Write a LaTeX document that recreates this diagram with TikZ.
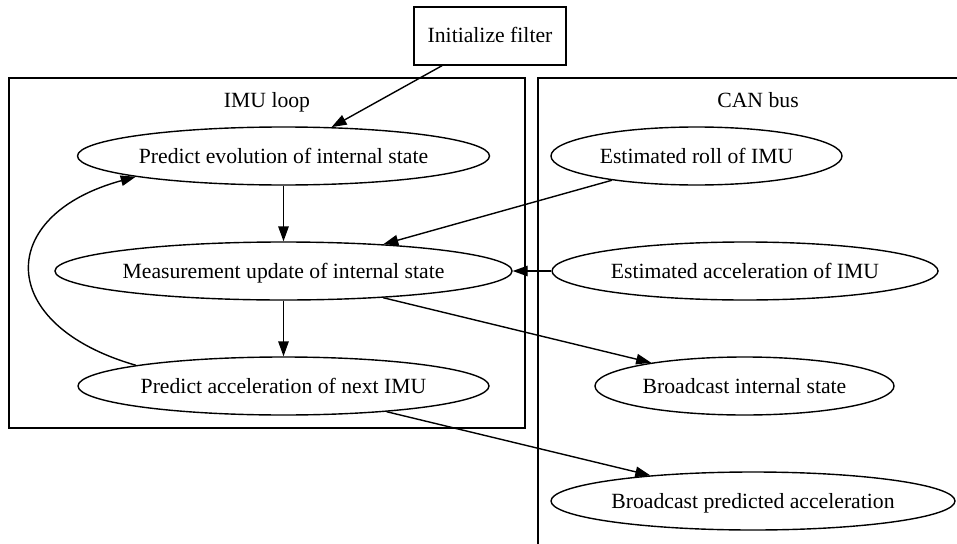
\documentclass[tikz,border=0pt]{standalone}
\usepackage{fontspec}
\setmainfont{Liberation Serif}
\usetikzlibrary{shapes.geometric,arrows.meta}
\begin{document}
\begin{tikzpicture}[x=1pt,y=-1pt,
  lbl/.style={font=\fontsize{21.7}{26}\selectfont, text height=17pt, text depth=3pt, inner sep=0pt},
  ell/.style={lbl, ellipse, draw, line width=1.4pt, minimum width=#1, minimum height=58pt},
  boxnode/.style={lbl, rectangle, draw, line width=1.4pt, minimum width=152pt, minimum height=58pt},
  cluster/.style={draw, line width=1.3pt},
  edge/.style={draw, line width=1.4pt, -{Triangle[length=15pt,width=10.5pt]}}]
\useasboundingbox (0,0) rectangle (957,543);
\clip (0,0) rectangle (957,543);
\draw[cluster] (9,78) rectangle (525,428);
\draw[cluster] (538,78) rectangle (980,560);
\node[lbl] (imulabel) at (267,100) {IMU loop};
\node[lbl] (canlabel) at (758,100) {CAN bus};
\node[boxnode] (init) at (490,36) {Initialize filter};
\node[ell=412pt] (pe) at (283.5,156) {\makebox[0pt]{Predict evolution of internal state}};
\node[ell=457pt] (meas) at (283.5,271) {\makebox[0pt]{Measurement update of internal state}};
\node[ell=411pt] (pa) at (283.5,386) {\makebox[0pt]{Predict acceleration of next IMU}};
\node[ell=291pt] (roll) at (696.5,156) {\makebox[0pt]{Estimated roll of IMU}};
\node[ell=386pt] (acc) at (745,271) {\makebox[0pt]{Estimated acceleration of IMU}};
\node[ell=299pt] (bi) at (744.5,386) {\makebox[0pt]{Broadcast internal state}};
\node[ell=404pt] (bpa) at (753,501) {\makebox[0pt]{Broadcast predicted acceleration}};
\draw[edge] ([xshift=-48pt]init.south) -- (pe.31);
\draw[edge] (pe.south) -- (meas.north);
\draw[edge] (meas.south) -- (pa.north);
\draw[edge] (roll.196) -- (meas.15);
\draw[edge] (acc.west) -- (meas.east);
\draw[edge] (meas.-15) -- (bi.166);
\draw[edge] (pa.-14) -- (bpa.166);
\draw[edge] (pa.172) .. controls (-5,325) and (-5,215) .. (pe.188);
\end{tikzpicture}
\end{document}
